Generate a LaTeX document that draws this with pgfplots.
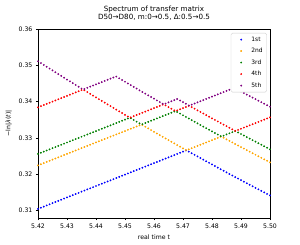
\documentclass[border=0pt]{standalone}
\usepackage{fontspec}
\setmainfont{DejaVu Sans}
\usepackage{pgfplots}
\pgfplotsset{compat=1.18}
\definecolor{mplblue}{RGB}{0,0,255}
\definecolor{mplorange}{RGB}{255,165,0}
\definecolor{mplgreen}{RGB}{0,128,0}
\definecolor{mplred}{RGB}{255,0,0}
\definecolor{mplpurple}{RGB}{128,0,128}
\begin{document}
\begin{tikzpicture}
\useasboundingbox (0,0) rectangle (300bp,245bp);
\begin{axis}[
  at={(38bp,27bp)}, anchor=south west,
  width=232bp, height=189bp, scale only axis,
  xmin=5.42, xmax=5.50, ymin=0.308, ymax=0.36,
  xtick={5.42,5.43,5.44,5.45,5.46,5.47,5.48,5.49,5.50},
  ytick={0.31,0.32,0.33,0.34,0.35,0.36},
  scaled ticks=false,
  xticklabel style={/pgf/number format/.cd,fixed,fixed zerofill,precision=2},
  yticklabel style={/pgf/number format/.cd,fixed,fixed zerofill,precision=2},
  /pgf/number format/assume math mode=true,
  tick label style={font=\fontsize{6.2}{7}\selectfont},
  label style={font=\fontsize{6.2}{7}\selectfont},
  title style={font=\fontsize{7.2}{8.6}\selectfont, align=center, yshift=-1bp},
  title={Spectrum of transfer matrix\\D50→D80, m:0→0.5, Δ:0.5→0.5},
  xlabel={real time t},
  ylabel={−ln|\textit{λ}(\textit{t})|},
  tick align=outside, tick pos=left,
  major tick length=2.1bp,
  axis line style={line width=0.5bp},
  every tick/.style={black, line width=0.5bp},
  legend style={at={(0.987,0.979)}, anchor=north east, draw=black!20, rounded corners=1.5bp,
    font=\fontsize{6}{7}\selectfont, inner xsep=2bp, inner ysep=1.5bp, row sep=1.5bp},
  legend cell align=left,
  legend image code/.code={\path (0bp,0bp) (16bp,0bp);\draw[mark repeat=2,mark phase=2,#1] plot coordinates {(0bp,0bp) (8bp,0bp) (16bp,0bp)};},
  every axis plot/.append style={only marks, mark=*, mark size=0.7bp},
]
\addplot[mplblue, only marks, mark=*, mark size=0.7bp] coordinates {
(5.420,0.31050)(5.421,0.31082)(5.422,0.31113)(5.423,0.31145)(5.424,0.31176)(5.425,0.31208)(5.426,0.31239)(5.427,0.31271)(5.428,0.31302)(5.429,0.31334)
(5.430,0.31365)(5.431,0.31397)(5.432,0.31428)(5.433,0.31460)(5.434,0.31491)(5.435,0.31523)(5.436,0.31554)(5.437,0.31586)(5.438,0.31617)(5.439,0.31649)
(5.440,0.31680)(5.441,0.31712)(5.442,0.31743)(5.443,0.31775)(5.444,0.31806)(5.445,0.31838)(5.446,0.31869)(5.447,0.31901)(5.448,0.31932)(5.449,0.31964)
(5.450,0.31995)(5.451,0.32027)(5.452,0.32058)(5.453,0.32090)(5.454,0.32121)(5.455,0.32153)(5.456,0.32184)(5.457,0.32216)(5.458,0.32247)(5.459,0.32279)
(5.460,0.32310)(5.461,0.32342)(5.462,0.32373)(5.463,0.32405)(5.464,0.32436)(5.465,0.32468)(5.466,0.32499)(5.467,0.32531)(5.468,0.32562)(5.469,0.32594)
(5.470,0.32625)(5.471,0.32657)(5.472,0.32627)(5.473,0.32582)(5.474,0.32538)(5.475,0.32493)(5.476,0.32449)(5.477,0.32405)(5.478,0.32361)(5.479,0.32317)
(5.480,0.32273)(5.481,0.32229)(5.482,0.32186)(5.483,0.32142)(5.484,0.32099)(5.485,0.32055)(5.486,0.32012)(5.487,0.31969)(5.488,0.31926)(5.489,0.31884)
(5.490,0.31841)(5.491,0.31799)(5.492,0.31756)(5.493,0.31714)(5.494,0.31672)(5.495,0.31630)(5.496,0.31588)(5.497,0.31546)(5.498,0.31504)(5.499,0.31463)
(5.500,0.31421)};
\addplot[mplorange, only marks, mark=*, mark size=0.7bp] coordinates {
(5.420,0.32248)(5.421,0.32280)(5.422,0.32311)(5.423,0.32343)(5.424,0.32374)(5.425,0.32406)(5.426,0.32437)(5.427,0.32469)(5.428,0.32500)(5.429,0.32532)
(5.430,0.32563)(5.431,0.32595)(5.432,0.32626)(5.433,0.32658)(5.434,0.32689)(5.435,0.32721)(5.436,0.32752)(5.437,0.32784)(5.438,0.32815)(5.439,0.32847)
(5.440,0.32878)(5.441,0.32910)(5.442,0.32941)(5.443,0.32973)(5.444,0.33004)(5.445,0.33036)(5.446,0.33067)(5.447,0.33099)(5.448,0.33130)(5.449,0.33162)
(5.450,0.33193)(5.451,0.33225)(5.452,0.33256)(5.453,0.33288)(5.454,0.33319)(5.455,0.33351)(5.456,0.33358)(5.457,0.33311)(5.458,0.33265)(5.459,0.33218)
(5.460,0.33172)(5.461,0.33126)(5.462,0.33080)(5.463,0.33034)(5.464,0.32988)(5.465,0.32943)(5.466,0.32897)(5.467,0.32852)(5.468,0.32807)(5.469,0.32762)
(5.470,0.32717)(5.471,0.32672)(5.472,0.32688)(5.473,0.32720)(5.474,0.32751)(5.475,0.32783)(5.476,0.32814)(5.477,0.32846)(5.478,0.32877)(5.479,0.32909)
(5.480,0.32940)(5.481,0.32972)(5.482,0.33003)(5.483,0.33035)(5.484,0.33009)(5.485,0.32965)(5.486,0.32922)(5.487,0.32879)(5.488,0.32836)(5.489,0.32794)
(5.490,0.32751)(5.491,0.32709)(5.492,0.32666)(5.493,0.32624)(5.494,0.32582)(5.495,0.32540)(5.496,0.32498)(5.497,0.32456)(5.498,0.32414)(5.499,0.32373)
(5.500,0.32331)};
\addplot[mplgreen, only marks, mark=*, mark size=0.7bp] coordinates {
(5.420,0.32562)(5.421,0.32594)(5.422,0.32625)(5.423,0.32657)(5.424,0.32688)(5.425,0.32720)(5.426,0.32751)(5.427,0.32783)(5.428,0.32814)(5.429,0.32846)
(5.430,0.32877)(5.431,0.32909)(5.432,0.32940)(5.433,0.32972)(5.434,0.33003)(5.435,0.33035)(5.436,0.33066)(5.437,0.33098)(5.438,0.33129)(5.439,0.33161)
(5.440,0.33192)(5.441,0.33224)(5.442,0.33255)(5.443,0.33287)(5.444,0.33318)(5.445,0.33350)(5.446,0.33381)(5.447,0.33413)(5.448,0.33444)(5.449,0.33476)
(5.450,0.33507)(5.451,0.33539)(5.452,0.33545)(5.453,0.33498)(5.454,0.33451)(5.455,0.33404)(5.456,0.33382)(5.457,0.33414)(5.458,0.33445)(5.459,0.33477)
(5.460,0.33508)(5.461,0.33540)(5.462,0.33571)(5.463,0.33603)(5.464,0.33634)(5.465,0.33666)(5.466,0.33697)(5.467,0.33729)(5.468,0.33717)(5.469,0.33672)
(5.470,0.33627)(5.471,0.33582)(5.472,0.33537)(5.473,0.33492)(5.474,0.33448)(5.475,0.33403)(5.476,0.33359)(5.477,0.33315)(5.478,0.33271)(5.479,0.33227)
(5.480,0.33183)(5.481,0.33139)(5.482,0.33096)(5.483,0.33052)(5.484,0.33066)(5.485,0.33098)(5.486,0.33129)(5.487,0.33161)(5.488,0.33192)(5.489,0.33154)
(5.490,0.33111)(5.491,0.33069)(5.492,0.33026)(5.493,0.32984)(5.494,0.32942)(5.495,0.32900)(5.496,0.32858)(5.497,0.32816)(5.498,0.32774)(5.499,0.32733)
(5.500,0.32691)};
\addplot[mplred, only marks, mark=*, mark size=0.7bp] coordinates {
(5.420,0.33846)(5.421,0.33878)(5.422,0.33909)(5.423,0.33941)(5.424,0.33972)(5.425,0.34004)(5.426,0.34035)(5.427,0.34067)(5.428,0.34098)(5.429,0.34130)
(5.430,0.34161)(5.431,0.34193)(5.432,0.34224)(5.433,0.34256)(5.434,0.34287)(5.435,0.34319)(5.436,0.34314)(5.437,0.34265)(5.438,0.34216)(5.439,0.34167)
(5.440,0.34119)(5.441,0.34070)(5.442,0.34022)(5.443,0.33974)(5.444,0.33926)(5.445,0.33878)(5.446,0.33830)(5.447,0.33782)(5.448,0.33734)(5.449,0.33687)
(5.450,0.33639)(5.451,0.33592)(5.452,0.33570)(5.453,0.33602)(5.454,0.33633)(5.455,0.33665)(5.456,0.33696)(5.457,0.33728)(5.458,0.33759)(5.459,0.33791)
(5.460,0.33822)(5.461,0.33854)(5.462,0.33885)(5.463,0.33917)(5.464,0.33898)(5.465,0.33853)(5.466,0.33807)(5.467,0.33762)(5.468,0.33760)(5.469,0.33792)
(5.470,0.33823)(5.471,0.33855)(5.472,0.33886)(5.473,0.33852)(5.474,0.33808)(5.475,0.33763)(5.476,0.33719)(5.477,0.33675)(5.478,0.33631)(5.479,0.33587)
(5.480,0.33543)(5.481,0.33499)(5.482,0.33456)(5.483,0.33412)(5.484,0.33369)(5.485,0.33325)(5.486,0.33282)(5.487,0.33239)(5.488,0.33196)(5.489,0.33224)
(5.490,0.33255)(5.491,0.33287)(5.492,0.33318)(5.493,0.33350)(5.494,0.33381)(5.495,0.33413)(5.496,0.33444)(5.497,0.33476)(5.498,0.33507)(5.499,0.33539)
(5.500,0.33570)};
\addplot[mplpurple, only marks, mark=*, mark size=0.7bp] coordinates {
(5.420,0.35113)(5.421,0.35062)(5.422,0.35011)(5.423,0.34961)(5.424,0.34910)(5.425,0.34860)(5.426,0.34810)(5.427,0.34760)(5.428,0.34710)(5.429,0.34660)
(5.430,0.34610)(5.431,0.34560)(5.432,0.34511)(5.433,0.34461)(5.434,0.34412)(5.435,0.34363)(5.436,0.34350)(5.437,0.34382)(5.438,0.34413)(5.439,0.34445)
(5.440,0.34476)(5.441,0.34508)(5.442,0.34539)(5.443,0.34571)(5.444,0.34602)(5.445,0.34634)(5.446,0.34665)(5.447,0.34692)(5.448,0.34644)(5.449,0.34597)
(5.450,0.34549)(5.451,0.34502)(5.452,0.34455)(5.453,0.34408)(5.454,0.34361)(5.455,0.34314)(5.456,0.34268)(5.457,0.34221)(5.458,0.34175)(5.459,0.34128)
(5.460,0.34082)(5.461,0.34036)(5.462,0.33990)(5.463,0.33944)(5.464,0.33948)(5.465,0.33980)(5.466,0.34011)(5.467,0.34043)(5.468,0.34074)(5.469,0.34032)
(5.470,0.33987)(5.471,0.33942)(5.472,0.33897)(5.473,0.33918)(5.474,0.33949)(5.475,0.33981)(5.476,0.34012)(5.477,0.34044)(5.478,0.34075)(5.479,0.34107)
(5.480,0.34138)(5.481,0.34170)(5.482,0.34201)(5.483,0.34233)(5.484,0.34264)(5.485,0.34296)(5.486,0.34327)(5.487,0.34359)(5.488,0.34366)(5.489,0.34324)
(5.490,0.34281)(5.491,0.34239)(5.492,0.34196)(5.493,0.34154)(5.494,0.34112)(5.495,0.34070)(5.496,0.34028)(5.497,0.33986)(5.498,0.33944)(5.499,0.33903)
(5.500,0.33861)};
\legend{1st,2nd,3rd,4th,5th}
\end{axis}
\end{tikzpicture}
\end{document}
